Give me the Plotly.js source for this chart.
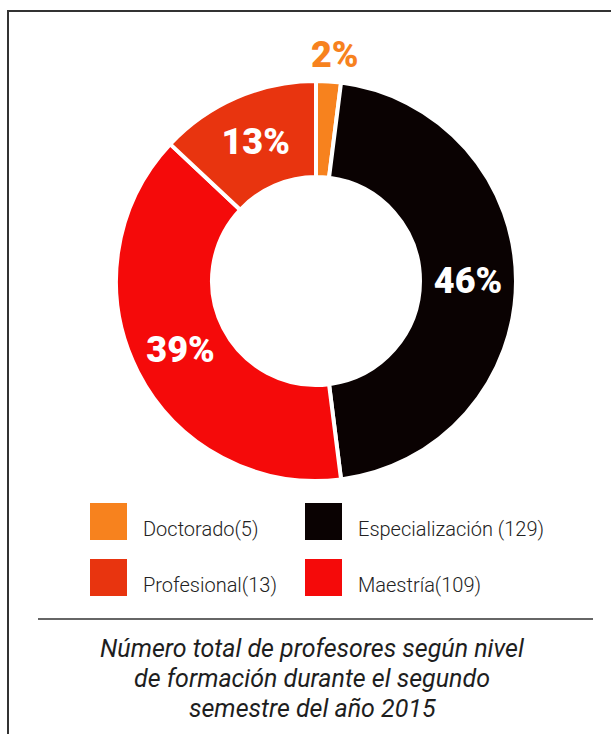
<!DOCTYPE html>
<html>
<head>
<meta charset="utf-8">
<script src="https://cdn.plot.ly/plotly-3.0.1.min.js"></script>
<style>
  html, body { margin: 0; padding: 0; background: #ffffff; }
  #chart { width: 611px; height: 734px; }
</style>
</head>
<body>
<div id="chart"></div>
<script>
// ---- Data ----
var sliceLabels = ['Doctorado', 'Especialización', 'Maestría', 'Profesional'];
var slicePercents = [2, 46, 39, 13];
var sliceColors = ['#f7821e', '#0a0202', '#f50a0a', '#e8340f'];
var sliceTextPos = ['none', 'inside', 'inside', 'inside'];

var legendLabels = ['Doctorado(5)', 'Especialización (129)', 'Profesional(13)', 'Maestría(109)'];
var legendColors = ['#f7821e', '#0a0202', '#e8340f', '#f50a0a'];

var captionLines = [
  'Número total de profesores según nivel',
  'de formación durante el segundo',
  'semestre del año 2015'
];

// ---- Layout helpers (pixel -> paper) ----
var W = 611, H = 734;
function px(x) { return x / W; }
function py(y) { return 1 - y / H; }

var trace = {
  type: 'pie',
  labels: sliceLabels,
  values: slicePercents,
  sort: false,
  direction: 'clockwise',
  rotation: 0,
  hole: 0.52,
  marker: { colors: sliceColors, line: { color: '#ffffff', width: 4 } },
  texttemplate: '%{value}%',
  textposition: sliceTextPos,
  insidetextorientation: 'horizontal',
  insidetextfont: { family: 'Roboto', size: 36, color: '#ffffff', weight: 900 },
  domain: { x: [px(116), px(516)], y: [py(481), py(81)] },
  showlegend: false,
  hoverinfo: 'label+percent'
};

var shapes = [
  // frame
  { type: 'line', xref: 'paper', yref: 'paper', x0: px(7), x1: px(611), y0: py(11), y1: py(11), line: { color: '#333333', width: 2 } },
  { type: 'line', xref: 'paper', yref: 'paper', x0: px(8), x1: px(8), y0: py(11), y1: py(734), line: { color: '#333333', width: 2 } },
  // separator
  { type: 'line', xref: 'paper', yref: 'paper', x0: px(38), x1: px(593), y0: py(619), y1: py(619), line: { color: '#333333', width: 1.5 } }
];
var annotations = [];

// small-slice label above the ring (Doctorado)
annotations.push({
  xref: 'paper', yref: 'paper', x: px(335), y: py(55),
  xanchor: 'center', yanchor: 'middle', showarrow: false,
  text: slicePercents[0] + '%',
  font: { family: 'Roboto', size: 36, color: sliceColors[0], weight: 900 }
});

// legend (2 columns x 2 rows)
var colX = [90, 305];
var rowY = [503, 559];
var sq = 37;
for (var i = 0; i < legendLabels.length; i++) {
  var c = i % 2, r = Math.floor(i / 2);
  shapes.push({
    type: 'rect', xref: 'paper', yref: 'paper',
    x0: px(colX[c]), x1: px(colX[c] + sq), y0: py(rowY[r] + sq), y1: py(rowY[r]),
    fillcolor: legendColors[i], line: { width: 0 }
  });
  annotations.push({
    xref: 'paper', yref: 'paper', x: px(colX[c] + sq + 14), y: py(rowY[r] + 26),
    xanchor: 'left', yanchor: 'middle', showarrow: false,
    text: legendLabels[i],
    font: { family: 'Roboto', size: 20, color: '#222222', weight: 300 }
  });
}

// caption
var capY = [648, 678, 708];
for (var j = 0; j < captionLines.length; j++) {
  annotations.push({
    xref: 'paper', yref: 'paper', x: px(312), y: py(capY[j]),
    xanchor: 'center', yanchor: 'middle', showarrow: false,
    text: captionLines[j],
    font: { family: 'Roboto', size: 25, color: '#1e1e1e', style: 'italic', weight: 400 }
  });
}

var layout = {
  width: W, height: H,
  margin: { l: 0, r: 0, t: 0, b: 0 },
  paper_bgcolor: '#ffffff',
  shapes: shapes,
  annotations: annotations
};

Plotly.newPlot('chart', [trace], layout, { displayModeBar: false, staticPlot: true });
</script>
</body>
</html>
